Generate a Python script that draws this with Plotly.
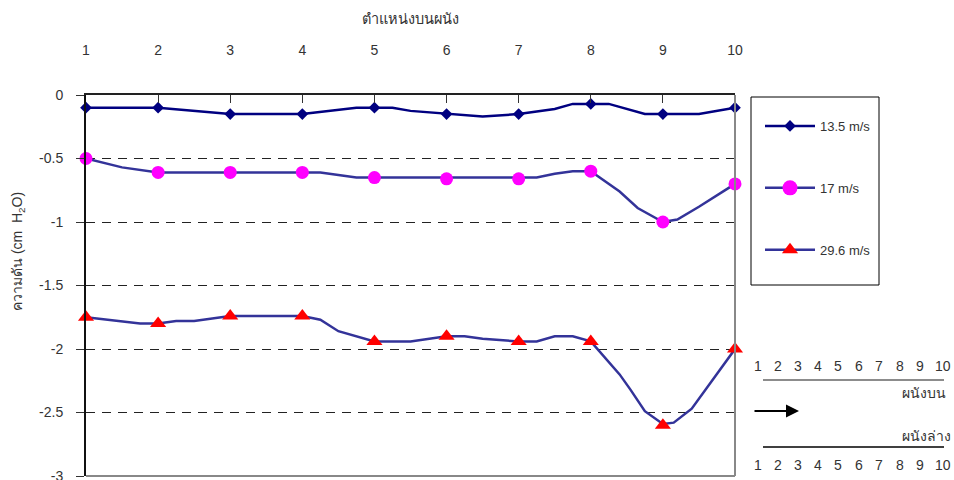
import plotly.graph_objects as go

# Wall positions and measured pressure (cm H2O) at each tap
positions = [1, 2, 3, 4, 5, 6, 7, 8, 9, 10]
p_13_5 = [-0.1, -0.1, -0.15, -0.15, -0.1, -0.15, -0.15, -0.07, -0.15, -0.1]
p_17 = [-0.5, -0.61, -0.61, -0.61, -0.65, -0.66, -0.66, -0.6, -1.0, -0.7]
p_29_6 = [-1.75, -1.8, -1.74, -1.74, -1.94, -1.9, -1.94, -1.94, -2.6, -2.0]

# Fitted pressure curves between taps
curve_x_13_5 = [1, 2, 3, 4, 4.75, 5, 5.25, 5.5, 6, 6.5, 7, 7.5, 7.75, 8, 8.25, 8.75, 9, 9.5, 10]
curve_y_13_5 = [-0.1, -0.1, -0.15, -0.15, -0.1, -0.1, -0.1, -0.125, -0.15, -0.17, -0.15, -0.11, -0.07,
                -0.07, -0.07, -0.15, -0.15, -0.15, -0.1]
curve_x_17 = [1, 1.5, 2, 3, 4, 4.25, 4.75, 5, 6, 7, 7.25, 7.5, 7.75, 8, 8.4, 8.65, 9, 9.2, 9.5, 10]
curve_y_17 = [-0.5, -0.57, -0.61, -0.61, -0.61, -0.61, -0.65, -0.65, -0.65, -0.65, -0.65, -0.62, -0.6,
              -0.6, -0.76, -0.89, -1.0, -0.98, -0.88, -0.7]
curve_x_29_6 = [1, 1.75, 2, 2.25, 2.5, 3, 4, 4.25, 4.5, 4.75, 5, 5.5, 6, 6.25, 6.5, 7, 7.25, 7.5, 7.75,
                8, 8.25, 8.4, 8.55, 8.75, 9, 9.15, 9.4, 9.75, 10]
curve_y_29_6 = [-1.75, -1.8, -1.8, -1.78, -1.78, -1.74, -1.74, -1.77, -1.86, -1.9, -1.94, -1.94, -1.9,
                -1.9, -1.92, -1.94, -1.94, -1.9, -1.9, -1.94, -2.1, -2.2, -2.32, -2.49, -2.59, -2.58,
                -2.47, -2.2, -2.0]

series_names = ["13.5 m/s", "17 m/s", "29.6 m/s"]
y_ticks = [0, -0.5, -1, -1.5, -2, -2.5, -3]
y_tick_labels = ["0", "-0.5", "-1", "-1.5", "-2", "-2.5", "-3"]
tap_labels = [str(p) for p in positions]

FONT = "Liberation Sans, Arial, sans-serif"
TXT = "#333333"

# Plot-area geometry in pixels (for placing the side notes in paper units)
L, R, T, B = 86, 735, 95, 476
W, H = R - L, B - T


def px(xp):
    return (xp - L) / W


def py(yp):
    return (B - yp) / H


styles = [
    dict(line="#000080", marker=dict(symbol="diamond", color="#000080", size=9), legend_size=9),
    dict(line="#333399", marker=dict(symbol="circle", color="#FF00FF", size=13), legend_size=15),
    dict(line="#333399", marker=dict(symbol="triangle-up", color="#FF0000", size=14), legend_size=14),
]
curves = [(curve_x_13_5, curve_y_13_5), (curve_x_17, curve_y_17), (curve_x_29_6, curve_y_29_6)]
values = [p_13_5, p_17, p_29_6]

fig = go.Figure()
for name, st, (cx, cy), vals in zip(series_names, styles, curves, values):
    fig.add_trace(go.Scatter(x=cx, y=cy, mode="lines", line=dict(color=st["line"], width=2.5),
                             showlegend=False, hoverinfo="skip", cliponaxis=False))
    fig.add_trace(go.Scatter(x=positions, y=vals, mode="markers", marker=st["marker"],
                             showlegend=False, name=name, cliponaxis=False))
    fig.add_trace(go.Scatter(x=[None], y=[None], mode="lines+markers", name=name, legendgroup=name,
                             line=dict(color=st["line"], width=2.5),
                             marker=dict(symbol=st["marker"]["symbol"], color=st["marker"]["color"],
                                         size=st["legend_size"])))

shapes = [
    # grey right and bottom frame of the plot area
    dict(type="line", xref="paper", yref="paper", x0=1, x1=1, y0=0, y1=1,
         line=dict(color="#888888", width=2)),
    dict(type="line", xref="paper", yref="paper", x0=0, x1=1, y0=0, y1=0,
         line=dict(color="#888888", width=2)),
    # legend frame
    dict(type="rect", xref="paper", yref="paper", x0=px(751), x1=px(879), y0=py(285), y1=py(97),
         line=dict(color="#000000", width=1), fillcolor="rgba(0,0,0,0)"),
    # upper / lower wall scales
    dict(type="line", xref="paper", yref="paper", x0=px(763), x1=px(944), y0=py(380), y1=py(380),
         line=dict(color="#666666", width=1.5)),
    dict(type="line", xref="paper", yref="paper", x0=px(763), x1=px(944), y0=py(447), y1=py(447),
         line=dict(color="#000000", width=1.5)),
]

annotations = [
    dict(text="ความดัน (cm  H<sub>2</sub>O)", textangle=-90, xref="paper", yref="paper",
         x=px(18), y=py(252), xanchor="center", yanchor="middle", showarrow=False,
         font=dict(family=FONT, size=14, color=TXT)),
    dict(text="ผนังบน", xref="paper", yref="paper", x=px(948), y=py(393), xanchor="right",
         yanchor="middle", showarrow=False, font=dict(family=FONT, size=14, color=TXT)),
    dict(text="ผนังล่าง", xref="paper", yref="paper", x=px(953), y=py(436), xanchor="right",
         yanchor="middle", showarrow=False, font=dict(family=FONT, size=14, color=TXT)),
    dict(text="", xref="paper", yref="paper", x=px(799), y=py(411), ax=-46, ay=0,
         axref="pixel", ayref="pixel", showarrow=True, arrowhead=2, arrowsize=1.3, arrowwidth=2,
         arrowcolor="#000000"),
]
num_x = [757.7, 778.3, 798.3, 818.3, 838.3, 859, 879, 900, 920, 943.3]
for lab, xp in zip(tap_labels, num_x):
    for yp in (366, 465):
        annotations.append(dict(text=lab, xref="paper", yref="paper", x=px(xp), y=py(yp),
                                xanchor="center", yanchor="middle", showarrow=False,
                                font=dict(family=FONT, size=14, color=TXT)))

fig.update_layout(
    width=954, height=480,
    margin=dict(l=L, r=954 - R, t=T, b=480 - B, autoexpand=False),
    paper_bgcolor="white", plot_bgcolor="white",
    font=dict(family=FONT, size=14, color=TXT),
    showlegend=True,
    legend=dict(x=px(760), y=py(111), xanchor="left", yanchor="top", bgcolor="rgba(0,0,0,0)",
                borderwidth=0, tracegroupgap=42, font=dict(family=FONT, size=13, color=TXT),
                itemwidth=50),
    shapes=shapes,
    annotations=annotations,
    xaxis=dict(range=[1, 10], side="top", tickvals=positions, ticktext=tap_labels,
               ticks="inside", ticklen=8, tickcolor="#333333", tickwidth=1,
               showline=True, linecolor="#222222", linewidth=2, showgrid=False, zeroline=False,
               ticklabelstandoff=32,
               title=dict(text="ตำแหน่งบนผนัง", standoff=14, font=dict(family=FONT, size=14.5, color=TXT))),
    yaxis=dict(range=[-3, 0], tickvals=y_ticks, ticktext=y_tick_labels,
               ticks="outside", ticklen=8, tickcolor="#333333", tickwidth=1,
               showline=True, linecolor="#111111", linewidth=2, zeroline=False,
               ticklabelstandoff=10, ticklabeloverflow="allow",
               showgrid=True, gridcolor="#222222", gridwidth=1, griddash="9px,7px"),
)

fig.write_html("out.html")
